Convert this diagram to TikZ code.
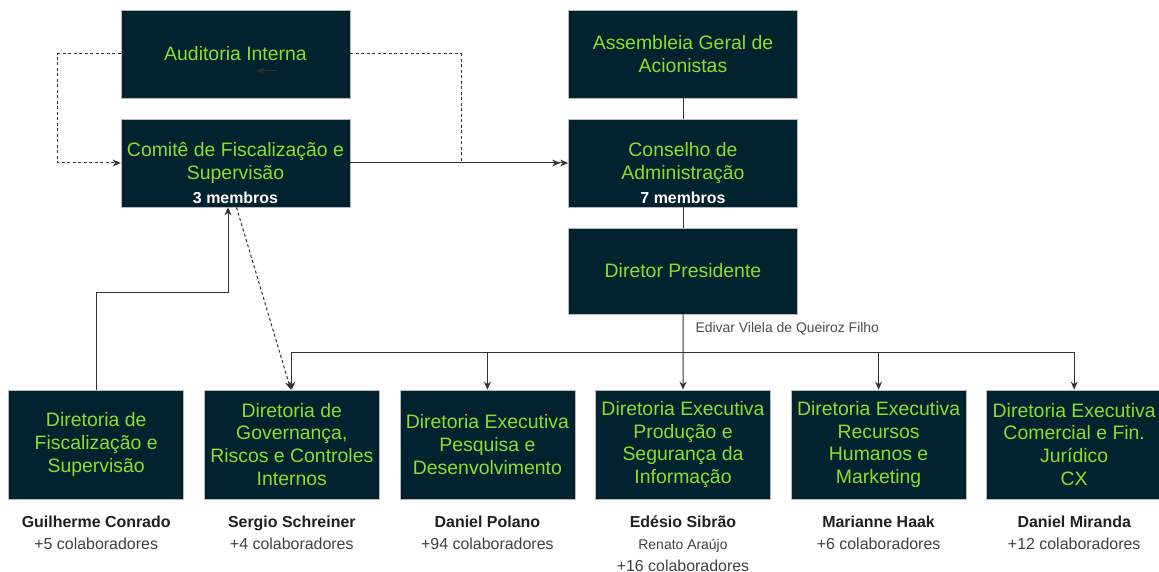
\documentclass[tikz,border=0pt]{standalone}
\usepackage{fontspec}
\setmainfont{Liberation Sans}
\usepackage{xcolor}
\usepackage{tikz}
\usetikzlibrary{arrows.meta, positioning}

\definecolor{boxfill}{HTML}{03222F}
\definecolor{boxgreen}{HTML}{8ADF2E}
\definecolor{linegray}{HTML}{333333}

\tikzset{
  orgbox/.style={draw=gray!55, line width=0.8bp, fill=boxfill, text=boxgreen, align=center,
    font=\fontsize{19.5}{23}\selectfont, inner sep=0pt},
  topbox/.style={orgbox, minimum width=229bp, minimum height=88bp},
  dirbox/.style={orgbox, minimum width=175bp, minimum height=109bp},
  members/.style={text=white, font=\bfseries\fontsize{16}{18}\selectfont, anchor=south, inner sep=4bp},
  person/.style={anchor=north, align=center, text=black!75, font=\fontsize{16}{22}\selectfont, inner sep=0pt},
  link/.style={line width=1bp, draw=linegray},
  dashlink/.style={link, dash pattern=on 3bp off 2.5bp},
}

\begin{document}
\begin{tikzpicture}[x=1bp, y=-1bp, >={Stealth[length=8bp,width=7bp]}]
    \useasboundingbox (0,0) rectangle (1159,572);

    % Left column: audit and committee
    \node[topbox] (audit) at (235.5,54) {Auditoria Interna};
    \node[topbox] (comite) at (235.5,163) {Comitê de Fiscalização e\\Supervisão};
    \node[members] (comitembros) at (comite.south) {3 membros};

    % Right column: shareholders, board, president
    \node[topbox] (assemb) at (683,54) {Assembleia Geral de\\Acionistas};
    \node[topbox] (conselho) at (683,163) {Conselho de\\Administração};
    \node[members] (conselhombros) at (conselho.south) {7 membros};
    \node[topbox, minimum height=86bp] (presid) at (683,271) {Diretor Presidente};
    \node[anchor=west, text=black!70, font=\fontsize{14}{16}\selectfont]
        (presidname) at ([shift={(9,14)}]presid.south) {Edivar Vilela de Queiroz Filho};

    % Directorates
    \foreach \i/\txt in {1/{Diretoria de\\Fiscalização e\\Supervisão},
                         2/{Diretoria de\\Governança,\\Riscos e Controles\\Internos},
                         3/{Diretoria Executiva\\Pesquisa e\\Desenvolvimento},
                         4/{Diretoria Executiva\\Produção e\\Segurança da\\Informação},
                         5/{Diretoria Executiva\\Recursos\\Humanos e\\Marketing},
                         6/{Diretoria Executiva\\Comercial e Fin.\\Jurídico\\CX}} {
        \node[dirbox] (dir\i) at ({96.2+195.6*(\i-1)},444.5) {\txt};
    }

    % People under each directorate
    \node[person] (pers1) at ([yshift=-16bp]dir1.south) {{\bfseries\color{black!88}Guilherme Conrado}\\+5 colaboradores};
    \node[person] (pers2) at ([yshift=-16bp]dir2.south) {{\bfseries\color{black!88}Sergio Schreiner}\\+4 colaboradores};
    \node[person] (pers3) at ([yshift=-16bp]dir3.south) {{\bfseries\color{black!88}Daniel Polano}\\+94 colaboradores};
    \node[person] (pers4) at ([yshift=-16bp]dir4.south) {{\bfseries\color{black!88}Edésio Sibrão}\\{\fontsize{14}{22}\selectfont Renato Araújo}\\+16 colaboradores};
    \node[person] (pers5) at ([yshift=-16bp]dir5.south) {{\bfseries\color{black!88}Marianne Haak}\\+6 colaboradores};
    \node[person] (pers6) at ([yshift=-16bp]dir6.south) {{\bfseries\color{black!88}Daniel Miranda}\\+12 colaboradores};

    % Connectors in the upper part
    \coordinate (cfjoin) at (461,163);
    \draw[dashlink,->] (audit.west) -- ++(-63,0) |- (comite.west);
    \draw[dashlink] (audit.east) -| (cfjoin);
    \draw[link,->>] (comite) -- (conselho);
    \draw[link] (assemb) -- (conselho);
    \draw[link] (conselho) -- (presid);
    \draw[link,->] ([shift={(41,17)}]audit.center) -- ++(-20,0);

    % President to the directorates
    \coordinate (bus) at (683,352);
    \draw[link,->] (presid) -- (dir4);
    \draw[link,->] (bus) -| (dir2);
    \draw[link,->] (bus) -| (dir6);
    \draw[link,->] (bus -| dir3) -- (dir3);
    \draw[link,->] (bus -| dir5) -- (dir5);

    % Fiscalization links back to the committee
    \coordinate (fiscturn) at (228,293);
    \draw[link,->] (dir1.north) |- (fiscturn) -- (fiscturn |- comite.south);
    \draw[dashlink,->] ([xshift=1bp]comite.south) -- ([xshift=-1bp]dir2.north);

\end{tikzpicture}
\end{document}
